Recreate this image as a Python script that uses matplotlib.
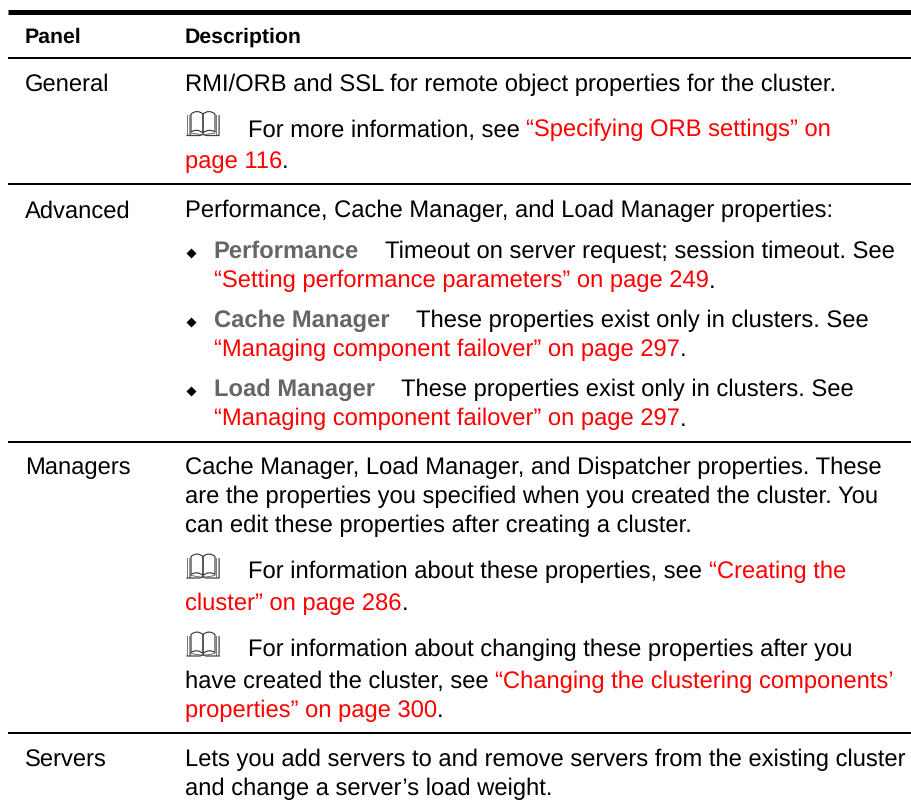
#!/usr/bin/env python3
"""Panel / description table redrawn as text and rules."""

import matplotlib
matplotlib.use('Agg')
import matplotlib.pyplot as plt
from matplotlib.patches import PathPatch
from matplotlib.path import Path

BLACK = '#000000'
RED = '#ff0000'
GREY = '#666666'

header = ['Panel', 'Description']
panel_names = ['General', 'Advanced', 'Managers', 'Servers']

# each line is a list of text runs: (text, colour, bold)
general_lines = [
    [('RMI/ORB and SSL for remote object properties for the cluster.', BLACK, False)],
    [('For more information, see ', BLACK, False), ('“Specifying ORB settings” on', RED, False)],
    [('page 116', RED, False), ('.', BLACK, False)],
]
advanced_lines = [
    [('Performance, Cache Manager, and Load Manager properties:', BLACK, False)],
    [('Performance', GREY, True), ('    Timeout on server request; session timeout. See', BLACK, False)],
    [('“Setting performance parameters” on page 249', RED, False), ('.', BLACK, False)],
    [('Cache Manager', GREY, True), ('    These properties exist only in clusters. See', BLACK, False)],
    [('“Managing component failover” on page 297', RED, False), ('.', BLACK, False)],
    [('Load Manager', GREY, True), ('    These properties exist only in clusters. See', BLACK, False)],
    [('“Managing component failover” on page 297', RED, False), ('.', BLACK, False)],
]
managers_lines = [
    [('Cache Manager, Load Manager, and Dispatcher properties. These', BLACK, False)],
    [('are the properties you specified when you created the cluster. You', BLACK, False)],
    [('can edit these properties after creating a cluster.', BLACK, False)],
    [('For information about these properties, see ', BLACK, False), ('“Creating the', RED, False)],
    [('cluster” on page 286', RED, False), ('.', BLACK, False)],
    [('For information about changing these properties after you', BLACK, False)],
    [('have created the cluster, see ', BLACK, False), ('“Changing the clustering components’', RED, False)],
    [('properties” on page 300', RED, False), ('.', BLACK, False)],
]
servers_lines = [
    [('Lets you add servers to and remove servers from the existing cluster', BLACK, False)],
    [('and change a server’s load weight.', BLACK, False)],
]

# layout, in pixels from the top left
panel_baselines = [91, 217.5, 474, 767]
general_y = [91, 136.5, 168]
general_x = [185, 248, 185]
advanced_y = [217.5, 258, 287.5, 327, 356, 396, 425.5]
advanced_x = [185, 213.4, 214, 214, 214, 214, 214]
managers_y = [474, 503, 532, 578, 610, 656, 688, 717]
managers_x = [185, 185, 185, 248, 185, 248, 185, 185]
servers_y = [766, 795.5]
servers_x = [185, 185]

book_tops = [110, 552.5, 630.5]
bullet_ys = [253, 322, 391]

rule_ys = [11.5, 58, 184, 442, 733]
rule_widths = [5, 2, 2, 2, 2]

FS = 17.1
FS_HEAD = 15.3

plt.rcParams['font.family'] = ['Liberation Sans', 'DejaVu Sans']
plt.rcParams['text.hinting'] = 'no_hinting'
plt.rcParams['text.hinting_factor'] = 8
fig = plt.figure(figsize=(9.11, 8.06), dpi=100)
ax = fig.add_axes([0, 0, 1, 1])
ax.set_xlim(0, 911)
ax.set_ylim(806, 0)
ax.axis('off')
renderer = fig.canvas.get_renderer()


def draw_runs(x, y, runs):
    for text, colour, bold in runs:
        t = ax.text(x, y, text, color=colour, fontsize=FS, va='baseline', ha='left',
                    fontweight='bold' if bold else 'normal')
        x += t.get_window_extent(renderer).width


def draw_book(x, y):
    # open book icon, 35x26 px
    page = [(5, 4), (11, -1), (17, 4), (17, 23), (11, 18), (5, 22), (5, 4)]
    codes = [Path.MOVETO, Path.CURVE3, Path.CURVE3, Path.LINETO, Path.CURVE3, Path.CURVE3, Path.LINETO]
    for flip in [False, True]:
        pts = [(x + (34 - px if flip else px), y + py) for px, py in page]
        ax.add_patch(PathPatch(Path(pts, codes), fill=False, ec='#333333', lw=0.8))
    # stacked page edges
    for dx, col in [(1, '#777777'), (2.5, '#999999'), (4, '#777777')]:
        ax.plot([x + dx, x + dx], [y + 5, y + 24], color=col, lw=0.7)
        ax.plot([x + 34 - dx, x + 34 - dx], [y + 5, y + 24], color=col, lw=0.7)
    ax.plot([x + 1, x + 14, x + 17, x + 20, x + 33],
            [y + 25.5, y + 25.5, y + 24, y + 25.5, y + 25.5], color='#444444', lw=0.9)
    ax.plot([x + 5, x + 17, x + 29], [y + 23, y + 25, y + 23], color='#555555', lw=0.6)


for y, lw in zip(rule_ys, rule_widths):
    ax.plot([8, 911], [y, y], color=BLACK, lw=lw * 72 / 100, solid_capstyle='butt')

ax.text(25, 42.7, header[0], fontsize=FS_HEAD, fontweight='bold', va='baseline')
ax.text(185, 42.7, header[1], fontsize=FS_HEAD, fontweight='bold', va='baseline')

for name, y in zip(panel_names, panel_baselines):
    ax.text(25, y, name, fontsize=FS, va='baseline')

for lines, ys, xs in [(general_lines, general_y, general_x),
                      (advanced_lines, advanced_y, advanced_x),
                      (managers_lines, managers_y, managers_x),
                      (servers_lines, servers_y, servers_x)]:
    for runs, y, x in zip(lines, ys, xs):
        draw_runs(x, y, runs)

for y in book_tops:
    draw_book(186, y)

ax.scatter([191] * len(bullet_ys), bullet_ys, marker='D', s=26, color=BLACK, linewidths=0)

fig.savefig('out.png', dpi=100)
